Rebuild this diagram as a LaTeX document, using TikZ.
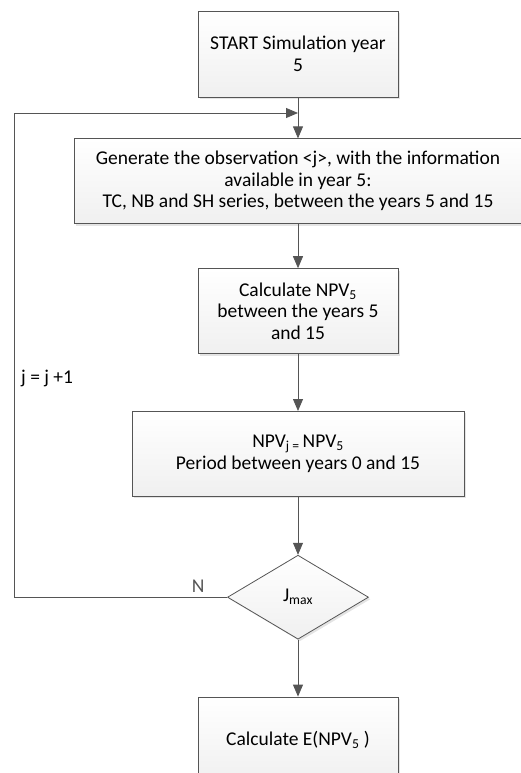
\documentclass[tikz,border=0pt]{standalone}
\usepackage{fontspec}
\setmainfont{Carlito}
\usepackage{tikz}
\usetikzlibrary{positioning, arrows.meta, shapes.geometric, shadows}
\definecolor{Lineacolor}{RGB}{85,85,85}

\begin{document}
\begin{tikzpicture}[
  x=1pt, y=1pt,
  font=\fontsize{19.5}{21.5}\selectfont,
  %% Estilo base: caja con degradado suave y sombra ligera
  pbox/.style={rectangle, draw=Lineacolor, thick,
               top color=white, bottom color=gray!12,
               drop shadow={shadow xshift=2pt, shadow yshift=-2pt,
                            fill=gray!35, opacity=0.6},
               minimum width=#1, minimum height=85pt,
               align=center, inner sep=4pt},
  dec/.style={diamond, draw=Lineacolor, thick,
              top color=white, bottom color=gray!12,
              drop shadow={shadow xshift=2pt, shadow yshift=-2pt,
                           fill=gray!35, opacity=0.6},
              minimum width=141pt, minimum height=84pt, inner sep=0pt},
  arr/.style={-{Triangle[length=12pt, width=10pt]}, thick, color=Lineacolor},
  lbl/.style={inner sep=1pt}
]
\useasboundingbox (0,0) rectangle (521,-773);

%% ── Columna principal ────────────────────────────────────────────────────
\node[pbox=200pt, minimum height=86pt] (inicio) at (298,-54)
  {START Simulation year\\5};

\node[pbox=448pt, below=41pt of inicio] (genera)
  {Generate the observation <j>, with the information\\
   available in year 5:\\
   TC, NB and SH series, between the years 5 and 15};

\node[pbox=200pt, below=44pt of genera] (calc)
  {Calculate NPV\textsubscript{5}\\between the years 5\\and 15};

\node[pbox=332pt, below=57pt of calc] (periodo)
  {NPV\textsubscript{j = }NPV\textsubscript{5}\\Period between years 0 and 15};

\node[dec, below=58pt of periodo] (jmax) {J\textsubscript{max}};

\node[pbox=200pt, below=57pt of jmax] (espera)
  {Calculate E(NPV\textsubscript{5} )};

%% ── Flechas flujo principal ──────────────────────────────────────────────
\draw[arr] (inicio)  -- (genera);
\draw[arr] (genera)  -- (calc);
\draw[arr] (calc)    -- (periodo);
\draw[arr] (periodo) -- (jmax);
\draw[arr] (jmax)    -- (espera);

%% ── Bucle de nueva observación ───────────────────────────────────────────
\coordinate (vuelta) at (14,-113);
\draw[arr] (jmax.west) -| node[lbl, pos=0.068, above=3pt] (no) {N}
  (vuelta) -- (inicio.south |- vuelta);
\node[lbl, anchor=west] (incr) at (20,-378) {j = j +1};

\end{tikzpicture}
\end{document}
